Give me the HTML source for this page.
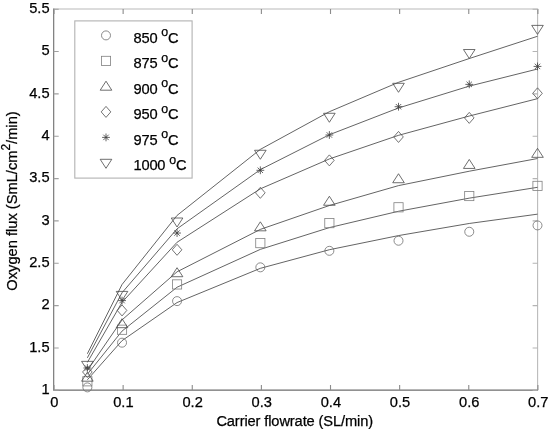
<!DOCTYPE html>
<html><head><meta charset="utf-8"><title>Oxygen flux vs carrier flowrate</title>
<style>html,body{margin:0;padding:0;background:#fff;}svg{display:block;}</style>
</head><body>
<svg width="550" height="429" viewBox="0 0 550 429">
<rect width="550" height="429" fill="#fff"/>
<g fill="none" stroke-width="1.1">
<path d="M53.7 9.0 H537.6 V390.1" stroke="#bababa"/>
<path d="M53.7 8.5 V390.1 H538.1" stroke="#6e6e6e"/>
<path d="M54.00 390.1 v-5 M123.13 390.1 v-5 M192.26 390.1 v-5 M261.39 390.1 v-5 M330.51 390.1 v-5 M399.64 390.1 v-5 M468.77 390.1 v-5 M537.90 390.1 v-5" stroke="#8c8c8c"/>
<path d="M54.00 9.0 v5 M123.13 9.0 v5 M192.26 9.0 v5 M261.39 9.0 v5 M330.51 9.0 v5 M399.64 9.0 v5 M468.77 9.0 v5 M537.90 9.0 v5" stroke="#8c8c8c"/>
<path d="M53.7 390.30 h5 M53.7 347.96 h5 M53.7 305.61 h5 M53.7 263.27 h5 M53.7 220.92 h5 M53.7 178.58 h5 M53.7 136.23 h5 M53.7 93.89 h5 M53.7 51.54 h5 M53.7 9.20 h5" stroke="#a0a0a0"/>
<path d="M537.6 390.30 h-5 M537.6 347.96 h-5 M537.6 305.61 h-5 M537.6 263.27 h-5 M537.6 220.92 h-5 M537.6 178.58 h-5 M537.6 136.23 h-5 M537.6 93.89 h-5 M537.6 51.54 h-5 M537.6 9.20 h-5" stroke="#b4b4b4"/>
</g>
<g fill="none" stroke="#303030" stroke-width="0.75" stroke-linejoin="round">
<polyline points="87.37,379.76 122.04,340.65 177.06,302.55 260.33,268.34 329.37,249.72 398.51,235.58 469.26,223.47 537.50,214.16"/>
<polyline points="87.37,374.26 122.04,331.08 177.06,287.22 260.33,249.38 329.37,227.62 398.51,211.28 469.26,198.15 537.50,187.32"/>
<polyline points="87.37,370.45 122.04,319.90 177.06,271.81 260.33,229.40 329.37,205.52 398.51,185.62 469.26,171.23 537.50,158.53"/>
<polyline points="87.37,362.41 122.04,302.29 177.06,242.26 260.33,188.84 329.37,158.95 398.51,135.33 469.26,116.03 537.50,98.67"/>
<polyline points="87.37,357.83 122.04,292.73 177.06,228.80 260.33,169.62 329.37,134.74 398.51,107.98 469.26,86.14 537.50,69.04"/>
<polyline points="87.37,353.77 122.04,284.51 177.06,215.43 260.33,149.39 329.37,111.71 398.51,82.33 469.26,58.54 537.50,36.27"/>
</g>
<g fill="none" stroke-width="0.8">
<circle cx="87.37" cy="387.38" r="4.5" stroke="#6e6e6e"/>
<circle cx="122.04" cy="342.68" r="4.5" stroke="#6e6e6e"/>
<circle cx="177.06" cy="301.11" r="4.5" stroke="#6e6e6e"/>
<circle cx="260.33" cy="267.33" r="4.5" stroke="#6e6e6e"/>
<circle cx="329.37" cy="250.82" r="4.5" stroke="#6e6e6e"/>
<circle cx="398.51" cy="240.74" r="4.5" stroke="#6e6e6e"/>
<circle cx="469.26" cy="231.77" r="4.5" stroke="#6e6e6e"/>
<circle cx="537.50" cy="225.42" r="4.5" stroke="#6e6e6e"/>
<rect x="82.77" y="376.69" width="9.2" height="9.2" stroke="#808080"/>
<rect x="117.44" y="325.13" width="9.2" height="9.2" stroke="#808080"/>
<rect x="172.46" y="279.83" width="9.2" height="9.2" stroke="#808080"/>
<rect x="255.73" y="238.51" width="9.2" height="9.2" stroke="#808080"/>
<rect x="324.77" y="218.53" width="9.2" height="9.2" stroke="#808080"/>
<rect x="393.91" y="202.70" width="9.2" height="9.2" stroke="#808080"/>
<rect x="464.66" y="191.44" width="9.2" height="9.2" stroke="#808080"/>
<rect x="532.90" y="181.28" width="9.2" height="9.2" stroke="#808080"/>
<path d="M87.37 372.19 L93.17 381.19 L81.57 381.19 Z" stroke="#4a4a4a"/>
<path d="M122.04 318.68 L127.84 327.68 L116.24 327.68 Z" stroke="#4a4a4a"/>
<path d="M177.06 267.71 L182.86 276.71 L171.26 276.71 Z" stroke="#4a4a4a"/>
<path d="M260.33 221.82 L266.13 230.82 L254.53 230.82 Z" stroke="#4a4a4a"/>
<path d="M329.37 196.26 L335.17 205.26 L323.57 205.26 Z" stroke="#4a4a4a"/>
<path d="M398.51 173.73 L404.31 182.73 L392.71 182.73 Z" stroke="#4a4a4a"/>
<path d="M469.26 159.43 L475.06 168.43 L463.46 168.43 Z" stroke="#4a4a4a"/>
<path d="M537.50 148.33 L543.30 157.33 L531.70 157.33 Z" stroke="#4a4a4a"/>
<path d="M87.37 366.47 L92.17 371.97 L87.37 377.47 L82.57 371.97 Z" stroke="#505050"/>
<path d="M122.04 304.92 L126.84 310.42 L122.04 315.92 L117.24 310.42 Z" stroke="#505050"/>
<path d="M177.06 244.30 L181.86 249.80 L177.06 255.30 L172.26 249.80 Z" stroke="#505050"/>
<path d="M260.33 187.32 L265.13 192.82 L260.33 198.32 L255.53 192.82 Z" stroke="#505050"/>
<path d="M329.37 154.89 L334.17 160.39 L329.37 165.89 L324.57 160.39 Z" stroke="#505050"/>
<path d="M398.51 131.44 L403.31 136.94 L398.51 142.44 L393.71 136.94 Z" stroke="#505050"/>
<path d="M469.26 112.39 L474.06 117.89 L469.26 123.39 L464.46 117.89 Z" stroke="#505050"/>
<path d="M537.50 87.84 L542.30 93.34 L537.50 98.84 L532.70 93.34 Z" stroke="#505050"/>
<path d="M83.47 367.99 H91.27 M87.37 364.09 V371.89 M84.67 365.29 L90.07 370.69 M84.67 370.69 L90.07 365.29" stroke="#3c3c3c"/>
<path d="M118.14 300.60 H125.94 M122.04 296.70 V304.50 M119.34 297.90 L124.74 303.30 M119.34 303.30 L124.74 297.90" stroke="#3c3c3c"/>
<path d="M173.16 233.04 H180.96 M177.06 229.14 V236.94 M174.36 230.34 L179.76 235.74 M174.36 235.74 L179.76 230.34" stroke="#3c3c3c"/>
<path d="M256.43 170.30 H264.23 M260.33 166.40 V174.20 M257.63 167.60 L263.03 173.00 M257.63 173.00 L263.03 167.60" stroke="#3c3c3c"/>
<path d="M325.47 134.99 H333.27 M329.37 131.09 V138.89 M326.67 132.29 L332.07 137.69 M326.67 137.69 L332.07 132.29" stroke="#3c3c3c"/>
<path d="M394.61 106.71 H402.41 M398.51 102.81 V110.61 M395.81 104.01 L401.21 109.41 M395.81 109.41 L401.21 104.01" stroke="#3c3c3c"/>
<path d="M465.36 84.36 H473.16 M469.26 80.46 V88.26 M466.56 81.66 L471.96 87.06 M466.56 87.06 L471.96 81.66" stroke="#3c3c3c"/>
<path d="M533.60 66.41 H541.40 M537.50 62.51 V70.31 M534.80 63.71 L540.20 69.11 M534.80 69.11 L540.20 63.71" stroke="#3c3c3c"/>
<path d="M87.37 370.35 L93.17 361.35 L81.57 361.35 Z" stroke="#4a4a4a"/>
<path d="M122.04 300.41 L127.84 291.41 L116.24 291.41 Z" stroke="#4a4a4a"/>
<path d="M177.06 227.01 L182.86 218.01 L171.26 218.01 Z" stroke="#4a4a4a"/>
<path d="M260.33 159.27 L266.13 150.27 L254.53 150.27 Z" stroke="#4a4a4a"/>
<path d="M329.37 122.27 L335.17 113.27 L323.57 113.27 Z" stroke="#4a4a4a"/>
<path d="M398.51 92.30 L404.31 83.30 L392.71 83.30 Z" stroke="#4a4a4a"/>
<path d="M469.26 58.52 L475.06 49.52 L463.46 49.52 Z" stroke="#4a4a4a"/>
<path d="M537.50 34.39 L543.30 25.39 L531.70 25.39 Z" stroke="#4a4a4a"/>
</g>
<rect x="74.8" y="20.9" width="117.3" height="157.2" fill="#fff" stroke="#b2b2b2" stroke-width="1.1"/>
<g fill="none" stroke-width="0.8">
<circle cx="106.00" cy="35.40" r="4.5" stroke="#6e6e6e"/>
<rect x="101.40" y="56.30" width="9.2" height="9.2" stroke="#808080"/>
<path d="M106.00 81.20 L111.80 90.20 L100.20 90.20 Z" stroke="#4a4a4a"/>
<path d="M106.00 106.40 L110.80 111.90 L106.00 117.40 L101.20 111.90 Z" stroke="#505050"/>
<path d="M102.10 137.40 H109.90 M106.00 133.50 V141.30 M103.30 134.70 L108.70 140.10 M103.30 140.10 L108.70 134.70" stroke="#3c3c3c"/>
<path d="M106.00 168.30 L111.80 159.30 L100.20 159.30 Z" stroke="#4a4a4a"/>
</g>
<g font-family="'Liberation Sans', Arial, sans-serif" font-size="14.67" fill="#000" stroke="#000" stroke-width="0.25">
<text x="133.5" y="42.8" letter-spacing="-0.2">850 <tspan font-size="12.4" dy="-6.6">o</tspan><tspan dy="6.6">C</tspan></text>
<text x="133.5" y="68.3" letter-spacing="-0.2">875 <tspan font-size="12.4" dy="-6.6">o</tspan><tspan dy="6.6">C</tspan></text>
<text x="133.5" y="93.8" letter-spacing="-0.2">900 <tspan font-size="12.4" dy="-6.6">o</tspan><tspan dy="6.6">C</tspan></text>
<text x="133.5" y="119.3" letter-spacing="-0.2">950 <tspan font-size="12.4" dy="-6.6">o</tspan><tspan dy="6.6">C</tspan></text>
<text x="133.5" y="144.8" letter-spacing="-0.2">975 <tspan font-size="12.4" dy="-6.6">o</tspan><tspan dy="6.6">C</tspan></text>
<text x="133.5" y="170.3" letter-spacing="-0.2">1000 <tspan font-size="12.4" dy="-6.6">o</tspan><tspan dy="6.6">C</tspan></text>
<text x="54.3" y="407" text-anchor="middle">0</text>
<text x="123.4" y="407" text-anchor="middle">0.1</text>
<text x="192.6" y="407" text-anchor="middle">0.2</text>
<text x="261.7" y="407" text-anchor="middle">0.3</text>
<text x="330.9" y="407" text-anchor="middle">0.4</text>
<text x="400.0" y="407" text-anchor="middle">0.5</text>
<text x="469.2" y="407" text-anchor="middle">0.6</text>
<text x="538.3" y="407" text-anchor="middle">0.7</text>
<text x="49.6" y="393.8" text-anchor="end">1</text>
<text x="49.6" y="351.5" text-anchor="end">1.5</text>
<text x="49.6" y="309.1" text-anchor="end">2</text>
<text x="49.6" y="266.8" text-anchor="end">2.5</text>
<text x="49.6" y="224.5" text-anchor="end">3</text>
<text x="49.6" y="182.1" text-anchor="end">3.5</text>
<text x="49.6" y="139.8" text-anchor="end">4</text>
<text x="49.6" y="97.5" text-anchor="end">4.5</text>
<text x="49.6" y="55.1" text-anchor="end">5</text>
<text x="49.6" y="12.8" text-anchor="end">5.5</text>
<text x="294.7" y="425.6" text-anchor="middle" letter-spacing="-0.12">Carrier flowrate (SL/min)</text>
<text transform="translate(17.4 201) rotate(-90)" text-anchor="middle">Oxygen flux (SmL/cm<tspan font-size="12" dy="-7.6">2</tspan><tspan dy="7.6">/min)</tspan></text>
</g>
</svg>
</body></html>
